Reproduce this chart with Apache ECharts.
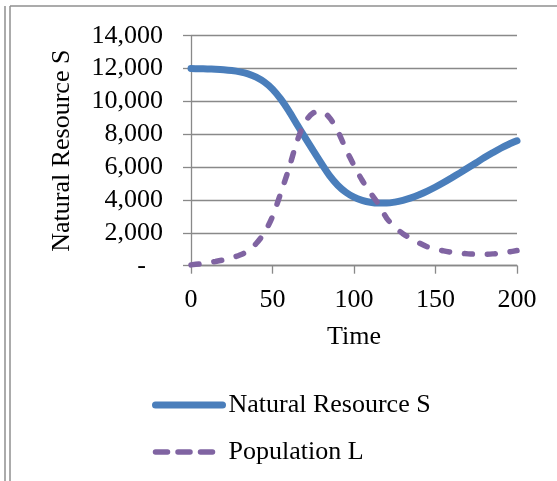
<!DOCTYPE html>
<html>
<head>
<meta charset="utf-8">
<script src="https://cdn.jsdelivr.net/npm/echarts@6/dist/echarts.min.js"></script>
<style>
html,body{margin:0;padding:0;background:#fff;}
#chart{width:557px;height:481px;}
</style>
</head>
<body>
<div id="chart"></div>
<script>
var time = [0,5,10,15,20,25,30,35,40,45,50,55,60,65,70,75,80,85,90,95,100,105,110,115,120,125,130,135,140,145,150,155,160,165,170,175,180,185,190,195,200];
var naturalResourceS = [12000,11990,11980,11960,11930,11880,11800,11680,11480,11180,10750,10150,9420,8600,7800,7000,6220,5480,4900,4470,4170,3980,3860,3810,3810,3870,3980,4130,4320,4540,4790,5060,5350,5650,5960,6270,6580,6870,7150,7390,7600];
var populationL = [50,100,170,260,360,480,650,900,1350,2000,3000,4400,5900,7550,8750,9300,9400,9000,8200,7100,6100,5200,4450,3750,2900,2350,1950,1650,1380,1150,1020,900,820,760,720,700,700,720,770,840,920];
var yTicks = [0,2000,4000,6000,8000,10000,12000,14000];
var xTicks = [0,50,100,150,200];

function pairs(xs, ys){ return xs.map(function(x,i){ return [x, ys[i]]; }); }

var font = '"Liberation Serif","Times New Roman",serif';
var gray = '#898989';
var blue = '#4A7EBB';
var purple = '#8064A2';
var seriesDash = [8, 15];
var legendDash = [12, 10.5];
var chart = echarts.init(document.getElementById('chart'));
chart.setOption({
  animation: false,
  backgroundColor: '#ffffff',
  textStyle: {fontFamily: font, color: '#000'},
  grid: {left: 191, right: 40, top: 35.7, bottom: 215.3, containLabel: false},
  xAxis: {
    type: 'value', min: xTicks[0], max: xTicks[xTicks.length-1], interval: 50,
    name: 'Time', nameLocation: 'middle', nameGap: 58,
    nameTextStyle: {fontFamily: font, fontSize: 26, color: '#000'},
    axisLine: {show: true, lineStyle: {color: gray, width: 1.3}},
    axisTick: {show: true, inside: false, length: 8, lineStyle: {color: gray, width: 1.3}},
    axisLabel: {fontFamily: font, fontSize: 26, color: '#000', margin: 21},
    splitLine: {show: false}
  },
  yAxis: {
    type: 'value', min: yTicks[0], max: yTicks[yTicks.length-1], interval: 2000,
    name: 'Natural Resource S', nameLocation: 'middle', nameGap: 116, nameRotate: 90,
    nameTextStyle: {fontFamily: font, fontSize: 26, color: '#000'},
    axisLine: {show: true, lineStyle: {color: gray, width: 1.3}},
    axisTick: {show: true, inside: false, length: 8, lineStyle: {color: gray, width: 1.3}},
    axisLabel: {
      fontFamily: font, fontSize: 26, color: '#000', margin: 28,
      formatter: function(v){ return v === 0 ? '{d|-}' : v.toLocaleString('en-US'); },
      rich: {d: {fontFamily: font, fontSize: 26, color: '#000', padding: [0, 17, 0, 0]}}
    },
    splitLine: {show: true, lineStyle: {color: gray, width: 1.3}}
  },
  legend: {
    show: true, orient: 'vertical', left: 147, top: 387,
    itemWidth: 67, itemHeight: 14, itemGap: 21,
    itemStyle: {opacity: 0},
    textStyle: {fontFamily: font, fontSize: 26, color: '#000', padding: [0,0,0,1]},
    data: [
      {name: 'Natural Resource S', itemStyle: {opacity: 0}, lineStyle: {color: blue, width: 7, cap: 'round'}},
      {name: 'Population L', itemStyle: {opacity: 0}, lineStyle: {color: purple, width: 5.5, type: legendDash, cap: 'round'}}
    ]
  },
  series: [
    {
      name: 'Natural Resource S', type: 'line', smooth: 0.3, symbol: 'none',
      data: pairs(time, naturalResourceS),
      lineStyle: {color: blue, width: 7, cap: 'round'},
      itemStyle: {color: blue}
    },
    {
      name: 'Population L', type: 'line', smooth: 0.3, symbol: 'none',
      data: pairs(time, populationL),
      lineStyle: {color: purple, width: 5.5, type: seriesDash, cap: 'round'},
      itemStyle: {color: purple}
    }
  ],
  graphic: [
    {type: 'line', shape: {x1: 5, y1: 6, x2: 5, y2: 481}, style: {stroke: '#8f8f8f', lineWidth: 1.5}, silent: true},
    {type: 'line', shape: {x1: 10, y1: 6, x2: 10, y2: 481}, style: {stroke: '#8f8f8f', lineWidth: 1.5}, silent: true},
    {type: 'line', shape: {x1: 10, y1: 6, x2: 557, y2: 6}, style: {stroke: '#8f8f8f', lineWidth: 1.5}, silent: true}
  ]
});
</script>
</body>
</html>
